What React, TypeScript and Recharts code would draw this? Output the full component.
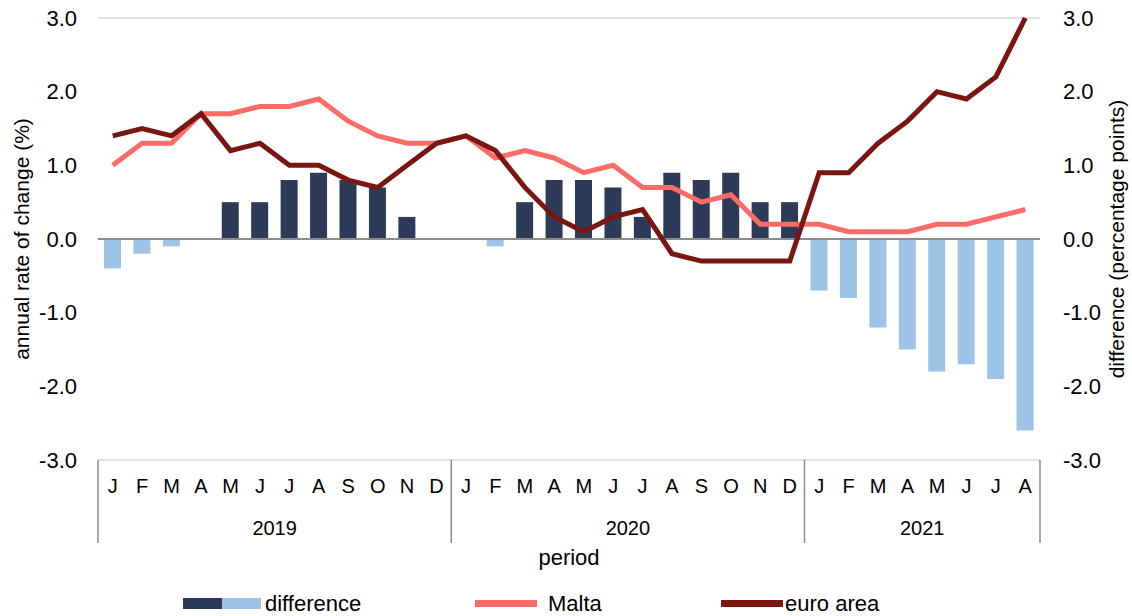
import React from "react";
import { ComposedChart, Bar, Line, XAxis, YAxis, CartesianGrid, ReferenceLine, Cell } from "recharts";

const months = ["J", "F", "M", "A", "M", "J", "J", "A", "S", "O", "N", "D", "J", "F", "M", "A", "M", "J", "J", "A", "S", "O", "N", "D", "J", "F", "M", "A", "M", "J", "J", "A"];
const years = ["2019", "2020", "2021"];
const yearLengths = [12, 12, 8];

const malta = [1.0, 1.3, 1.3, 1.7, 1.7, 1.8, 1.8, 1.9, 1.6, 1.4, 1.3, 1.3, 1.4, 1.1, 1.2, 1.1, 0.9, 1.0, 0.7, 0.7, 0.5, 0.6, 0.2, 0.2, 0.2, 0.1, 0.1, 0.1, 0.2, 0.2, 0.3, 0.4];
const euroArea = [1.4, 1.5, 1.4, 1.7, 1.2, 1.3, 1.0, 1.0, 0.8, 0.7, 1.0, 1.3, 1.4, 1.2, 0.7, 0.3, 0.1, 0.3, 0.4, -0.2, -0.3, -0.3, -0.3, -0.3, 0.9, 0.9, 1.3, 1.6, 2.0, 1.9, 2.2, 3.0];
const difference = [-0.4, -0.2, -0.1, 0, 0.5, 0.5, 0.8, 0.9, 0.8, 0.7, 0.3, 0, 0, -0.1, 0.5, 0.8, 0.8, 0.7, 0.3, 0.9, 0.8, 0.9, 0.5, 0.5, -0.7, -0.8, -1.2, -1.5, -1.8, -1.7, -1.9, -2.6];
const yTicks = [-3, -2, -1, 0, 1, 2, 3];

const DARK = "#2E3B58";
const LIGHT = "#9DC3E6";
const MALTA = "#FF6B66";
const EURO = "#7A1612";
const FONT = "'Liberation Sans', Arial, sans-serif";

const data = months.map((m, i) => ({
  key: i,
  month: m,
  malta: malta[i],
  euro: euroArea[i],
  diff: difference[i],
}));

// starting index of each year group
const yearStarts = yearLengths.map((_, g) => yearLengths.slice(0, g).reduce((a, b) => a + b, 0));

const MonthTick = (props: any) => {
  const { x, y, payload, index } = props;
  const half = payload?.offset ?? 14.7;
  const items: any[] = [];
  items.push(
    <text key="m" x={x} y={y + 33} textAnchor="middle" fontSize={20} fill="#000" fontFamily={FONT}>
      {months[index]}
    </text>
  );
  yearStarts.forEach((start, g) => {
    const len = yearLengths[g];
    if (index === start) {
      items.push(<line key="s" x1={x - half} x2={x - half} y1={y} y2={y + 83} stroke="#8c8c8c" strokeWidth={1.5} />);
    }
    if (index === start + len - 1 && g === yearLengths.length - 1) {
      items.push(<line key="e" x1={x + half} x2={x + half} y1={y} y2={y + 83} stroke="#8c8c8c" strokeWidth={1.5} />);
    }
    const mid = len % 2 === 0 ? start + len / 2 - 1 : start + (len - 1) / 2;
    if (index === mid) {
      const cx = len % 2 === 0 ? x + half : x;
      items.push(
        <text key="y" x={cx} y={y + 75} textAnchor="middle" fontSize={20} fill="#000" fontFamily={FONT}>
          {years[g]}
        </text>
      );
    }
  });
  return <g>{items}</g>;
};

export default function App() {
  return (
    <div style={{ position: "relative", width: 1132, height: 616, background: "#fff", fontFamily: FONT, overflow: "hidden" }}>
      <style>{`body{margin:0}`}</style>
      <ComposedChart width={1132} height={616} data={data} margin={{ top: 18, right: 0, bottom: 56, left: 0 }}>
        <CartesianGrid vertical={false} stroke="#d9d9d9" strokeWidth={1.5} />
        <XAxis
          dataKey="key"
          interval={0}
          axisLine={false}
          tickLine={false}
          tickSize={0}
          tickMargin={0}
          height={100}
          tick={<MonthTick />}
          label={{ value: "period", position: "insideBottom", offset: -5, fontSize: 22, fill: "#000", fontFamily: FONT }}
        />
        <YAxis
          yAxisId="left"
          orientation="left"
          width={98}
          domain={[-3, 3]}
          ticks={yTicks}
          axisLine={false}
          tickLine={false}
          tickSize={0}
          tickMargin={21}
          tickFormatter={(v: number) => v.toFixed(1)}
          tick={{ fontSize: 22, fill: "#000", fontFamily: FONT }}
          label={{ value: "annual rate of change (%)", angle: -90, position: "insideLeft", offset: 22, fontSize: 21, fill: "#000", fontFamily: FONT, style: { textAnchor: "middle" } }}
        />
        <YAxis
          yAxisId="right"
          orientation="right"
          width={92}
          domain={[-3, 3]}
          ticks={yTicks}
          axisLine={false}
          tickLine={false}
          tickSize={0}
          tickMargin={23}
          tickFormatter={(v: number) => v.toFixed(1)}
          tick={{ fontSize: 22, fill: "#000", fontFamily: FONT, textAnchor: "start" }}
          label={{ value: "difference (percentage points)", angle: -90, position: "insideRight", offset: 15, fontSize: 21, fill: "#000", fontFamily: FONT, style: { textAnchor: "middle" } }}
        />
        <ReferenceLine yAxisId="left" y={0} stroke="#8c8c8c" strokeWidth={2} />
        <Bar yAxisId="right" dataKey="diff" barSize={17} isAnimationActive={false}>
          {data.map((d) => (
            <Cell key={d.key} fill={d.diff < 0 ? LIGHT : DARK} />
          ))}
        </Bar>
        <Line yAxisId="left" type="linear" dataKey="malta" stroke={MALTA} strokeWidth={5} dot={false} isAnimationActive={false} />
        <Line yAxisId="left" type="linear" dataKey="euro" stroke={EURO} strokeWidth={5} dot={false} isAnimationActive={false} />
      </ComposedChart>
      <div style={{ position: "absolute", top: 591, left: 0, width: 1132, height: 25, fontSize: 22, lineHeight: "25px", color: "#000" }}>
        <div style={{ position: "absolute", left: 183, top: 0, display: "flex", alignItems: "center" }}>
          <span style={{ display: "inline-flex", width: 78, height: 11 }}>
            <span style={{ flex: 1, background: DARK }} />
            <span style={{ flex: 1, background: LIGHT }} />
          </span>
          <span style={{ marginLeft: 4 }}>difference</span>
        </div>
        <div style={{ position: "absolute", left: 475, top: 0, display: "flex", alignItems: "center" }}>
          <span style={{ display: "inline-block", width: 62, height: 7, background: MALTA }} />
          <span style={{ marginLeft: 11 }}>Malta</span>
        </div>
        <div style={{ position: "absolute", left: 721, top: 0, display: "flex", alignItems: "center" }}>
          <span style={{ display: "inline-block", width: 62, height: 7, background: EURO }} />
          <span style={{ marginLeft: 2 }}>euro area</span>
        </div>
      </div>
    </div>
  );
}
